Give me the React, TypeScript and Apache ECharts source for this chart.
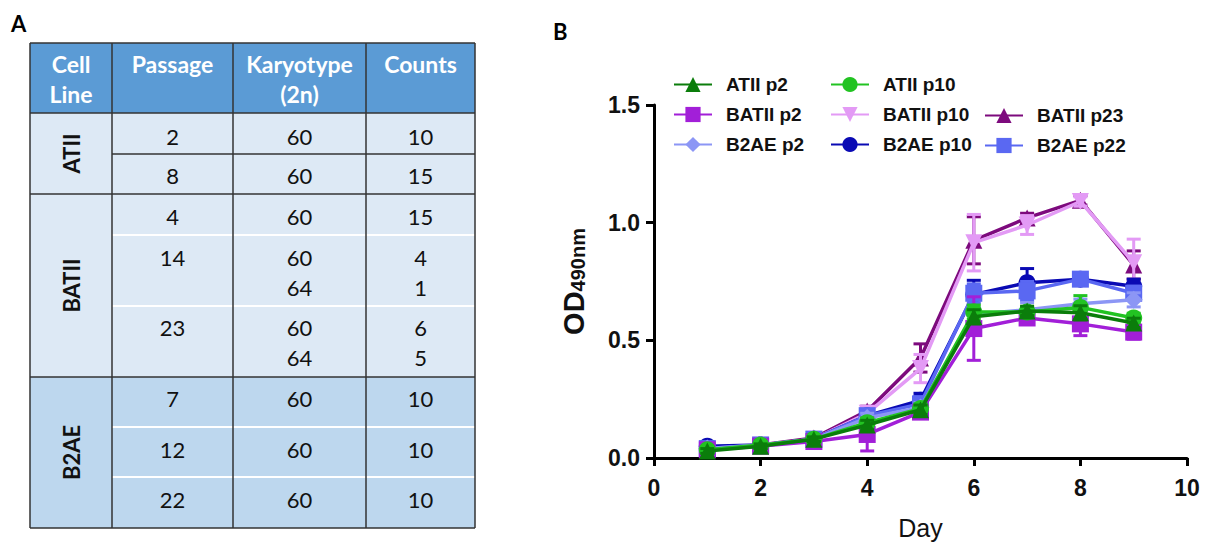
import React, { useEffect, useRef } from "react";
import * as echarts from "echarts";

// ---------- Panel A: table data ----------
const tableHeaders = ["Cell\nLine", "Passage", "Karyotype\n(2n)", "Counts"];
const cellLines = ["ATII", "BATII", "B2AE"];
const tablePassages = ["2", "8", "4", "14", "23", "7", "12", "22"];
const tableKaryotypes = ["60", "60", "60", "60\n64", "60\n64", "60", "60", "60"];
const tableCounts = ["10", "15", "15", "4\n1", "6\n5", "10", "10", "10"];

// ---------- Panel B: growth curves ----------
const days = [1, 2, 3, 4, 5, 6, 7, 8, 9];
const xTicks = [0, 2, 4, 6, 8, 10];
const yTicks = [0, 0.5, 1.0, 1.5];

const seriesNames = ["ATII p2", "ATII p10", "BATII p2", "BATII p10", "BATII p23", "B2AE p2", "B2AE p10", "B2AE p22"];
const atiiP2 = [0.03, 0.05, 0.08, 0.14, 0.205, 0.6, 0.625, 0.617, 0.574];
const atiiP10 = [0.035, 0.055, 0.08, 0.15, 0.21, 0.62, 0.62, 0.64, 0.595];
const batiiP2 = [0.035, 0.05, 0.07, 0.1, 0.195, 0.55, 0.595, 0.57, 0.535];
const batiiP10 = [0.04, 0.055, 0.08, 0.19, 0.38, 0.915, 0.99, 1.09, 0.83];
const batiiP23 = [0.04, 0.055, 0.085, 0.2, 0.425, 0.925, 1.02, 1.095, 0.82];
const b2aeP2 = [0.04, 0.055, 0.08, 0.17, 0.215, 0.61, 0.63, 0.655, 0.672];
const b2aeP10 = [0.05, 0.055, 0.08, 0.18, 0.245, 0.695, 0.745, 0.76, 0.73];
const b2aeP22 = [0.04, 0.055, 0.08, 0.18, 0.23, 0.7, 0.71, 0.76, 0.7];

const atiiP2Err = [0.01, 0.01, 0.01, 0.02, 0.02, 0.03, 0.02, 0.03, 0.02];
const atiiP10Err = [0.01, 0.01, 0.01, 0.02, 0.02, 0.03, 0.02, 0.05, 0.02];
const batiiP2Err = [0.01, 0.01, 0.01, 0.07, 0.02, 0.135, 0.02, 0.05, 0.03];
const batiiP10Err = [0.01, 0.01, 0.01, 0.02, 0.06, 0.12, 0.04, 0.02, 0.1];
const batiiP23Err = [0.01, 0.01, 0.01, 0.02, 0.06, 0.1, 0.02, 0.02, 0.06];
const b2aeP2Err = [0.01, 0.01, 0.01, 0.02, 0.02, 0.03, 0.03, 0.02, 0.03];
const b2aeP10Err = [0.01, 0.01, 0.01, 0.02, 0.03, 0.06, 0.06, 0.02, 0.03];
const b2aeP22Err = [0.01, 0.01, 0.01, 0.02, 0.03, 0.04, 0.04, 0.02, 0.03];

const seriesValues = [atiiP2, atiiP10, batiiP2, batiiP10, batiiP23, b2aeP2, b2aeP10, b2aeP22];
const seriesErrors = [atiiP2Err, atiiP10Err, batiiP2Err, batiiP10Err, batiiP23Err, b2aeP2Err, b2aeP10Err, b2aeP22Err];
const seriesColors = ["#0b7d0b", "#22c322", "#a21fd8", "#e39af5", "#7d0a7d", "#8c96f5", "#0a0ab4", "#5a68f2"];
const seriesSymbols = ["triangle", "circle", "rect", "triangle", "triangle", "diamond", "circle", "rect"];
const seriesRotate = [0, 0, 0, 180, 0, 0, 0, 0];
// draw order (later on top)
const drawOrder = [4, 3, 6, 7, 5, 2, 1, 0];

const legendCols = [
  ["ATII p2", "BATII p2", "B2AE p2"],
  ["ATII p10", "BATII p10", "B2AE p10"],
  ["BATII p23", "B2AE p22"],
];

function buildTable(): any[] {
  const els: any[] = [];
  const colX = [30, 112, 233, 366, 475];
  const headTop = 43;
  const headBottom = 113;
  const rowCenters = [136, 175.5, 216, 257, 327, 398, 449, 499];
  const groupEdges = [113, 194, 377, 528];
  const groupFill = ["#dde9f5", "#dde9f5", "#bdd7ee"];
  const font = "Lato";
  els.push({ type: "rect", shape: { x: colX[0], y: headTop, width: colX[4] - colX[0], height: headBottom - headTop }, style: { fill: "#5b9bd5" } });
  for (let g = 0; g < 3; g++) {
    els.push({ type: "rect", shape: { x: colX[0], y: groupEdges[g], width: colX[4] - colX[0], height: groupEdges[g + 1] - groupEdges[g] }, style: { fill: groupFill[g] } });
  }
  [235, 306, 427, 477].forEach((y) => {
    els.push({ type: "line", shape: { x1: colX[1], y1: y, x2: colX[4], y2: y }, style: { stroke: "#ffffff", lineWidth: 2 } });
  });
  els.push({ type: "line", shape: { x1: colX[1], y1: 154, x2: colX[4], y2: 154 }, style: { stroke: "#333", lineWidth: 1.5 } });
  [headTop, headBottom, 194, 377, 528].forEach((y) => {
    els.push({ type: "line", shape: { x1: colX[0], y1: y, x2: colX[4], y2: y }, style: { stroke: "#333", lineWidth: 1.5 } });
  });
  colX.forEach((x) => {
    els.push({ type: "line", shape: { x1: x, y1: headTop, x2: x, y2: 528 }, style: { stroke: "#333", lineWidth: 1.5 } });
  });
  tableHeaders.forEach((h, i) => {
    const cx = (colX[i] + colX[i + 1]) / 2;
    els.push({
      type: "text", x: cx, y: 49,
      style: { text: h, fill: "#ffffff", font: `bold 23px ${font}`, align: "center", verticalAlign: "top", lineHeight: 30 },
    });
  });
  cellLines.forEach((c, g) => {
    els.push({
      type: "text", x: (colX[0] + colX[1]) / 2, y: (groupEdges[g] + groupEdges[g + 1]) / 2, rotation: Math.PI / 2,
      style: { text: c, fill: "#111", font: `bold 22px ${font}`, align: "center", verticalAlign: "middle" },
    });
  });
  for (let r = 0; r < tablePassages.length; r++) {
    const cy = rowCenters[r];
    const cells = [tablePassages[r], tableKaryotypes[r], tableCounts[r]];
    cells.forEach((t, k) => {
      const cx = (colX[k + 1] + colX[k + 2]) / 2;
      els.push({
        type: "text", x: cx, y: cy - 15,
        style: { text: t, fill: "#111", font: `22px ${font}`, align: "center", verticalAlign: "top", lineHeight: 30.5 },
      });
    });
  }
  els.push({ type: "text", x: 11, y: 12, style: { text: "A", fill: "#000", font: `bold 22px ${font}` } });
  els.push({ type: "text", x: 553, y: 20, style: { text: "B", fill: "#000", font: `bold 22px ${font}` } });
  return els;
}

export default function App() {
  const ref = useRef<HTMLDivElement>(null);
  useEffect(() => {
    if (!ref.current) return;
    const chart = echarts.init(ref.current, null, { renderer: "svg" });
    const axisFont = "Liberation Sans";

    const lineSeries: any[] = [];
    const errSeries: any[] = [];
    drawOrder.forEach((i, k) => {
      const color = seriesColors[i];
      errSeries.push({
        type: "custom",
        name: seriesNames[i] + " SEM",
        silent: true,
        z: 2 + k * 2,
        data: days.map((d, j) => [d, seriesValues[i][j], seriesErrors[i][j]]),
        renderItem: (params: any, api: any) => {
          const x = api.value(0);
          const y = api.value(1);
          const e = api.value(2);
          const top = api.coord([x, y + e]);
          const bot = api.coord([x, y - e]);
          const w = 7;
          const st = { stroke: color, lineWidth: 3 };
          return {
            type: "group",
            children: [
              { type: "line", shape: { x1: top[0], y1: top[1], x2: bot[0], y2: bot[1] }, style: st },
              { type: "line", shape: { x1: top[0] - w, y1: top[1], x2: top[0] + w, y2: top[1] }, style: st },
              { type: "line", shape: { x1: bot[0] - w, y1: bot[1], x2: bot[0] + w, y2: bot[1] }, style: st },
            ],
          };
        },
      });
      lineSeries.push({
        type: "line",
        name: seriesNames[i],
        z: 3 + k * 2,
        data: days.map((d, j) => [d, seriesValues[i][j]]),
        symbol: seriesSymbols[i],
        symbolRotate: seriesRotate[i],
        symbolSize: seriesSymbols[i] === "diamond" ? 18 : 17,
        showAllSymbol: true,
        color: color,
        itemStyle: { color: color },
        lineStyle: { color: color, width: 3.5 },
      });
    });

    const legends = legendCols.map((col, c) => ({
      data: col,
      orient: "vertical",
      left: [668, 825, 979][c],
      top: c === 2 ? 101 : 70,
      itemWidth: 38,
      itemHeight: 19,
      itemGap: 11,
      selectedMode: false,
      textStyle: { fontFamily: axisFont, fontWeight: "bold", fontSize: 19, color: "#111", padding: [0, 0, 0, 9] },
    }));

    chart.setOption({
      animation: false,
      backgroundColor: "#ffffff",
      graphic: buildTable(),
      legend: legends,
      grid: { left: 654, top: 105, right: 20, bottom: 88, containLabel: false },
      xAxis: {
        type: "value",
        min: xTicks[0],
        max: xTicks[xTicks.length - 1],
        interval: 2,
        name: "Day",
        nameLocation: "middle",
        nameGap: 57,
        nameTextStyle: { fontFamily: axisFont, fontSize: 25, color: "#111" },
        axisLine: { lineStyle: { color: "#000", width: 3 } },
        axisTick: { length: 8, lineStyle: { color: "#000", width: 3 } },
        axisLabel: { fontFamily: axisFont, fontWeight: "bold", fontSize: 23, color: "#111", margin: 18 },
        splitLine: { show: false },
      },
      yAxis: {
        type: "value",
        min: yTicks[0],
        max: yTicks[yTicks.length - 1],
        interval: 0.5,
        name: "{a|OD}{b|490nm}",
        nameLocation: "middle",
        nameRotate: 90,
        nameGap: 66,
        nameTextStyle: {
          rich: {
            a: { fontFamily: axisFont, fontWeight: "bold", fontSize: 29, color: "#111", verticalAlign: "bottom", lineHeight: 32 },
            b: { fontFamily: axisFont, fontWeight: "bold", fontSize: 20, color: "#111", verticalAlign: "bottom", lineHeight: 32, padding: [10, 0, 0, 0] },
          },
        },
        axisLine: { show: true, lineStyle: { color: "#000", width: 3 } },
        axisTick: { show: true, length: 8, lineStyle: { color: "#000", width: 3 } },
        axisLabel: { fontFamily: axisFont, fontWeight: "bold", fontSize: 23, color: "#111", margin: 14, formatter: (v: number) => v.toFixed(1) },
        splitLine: { show: false },
      },
      series: [...errSeries, ...lineSeries],
    });
    return () => chart.dispose();
  }, []);
  return <div ref={ref} style={{ position: "fixed", left: 0, top: 0, width: 1207, height: 546 }} />;
}
